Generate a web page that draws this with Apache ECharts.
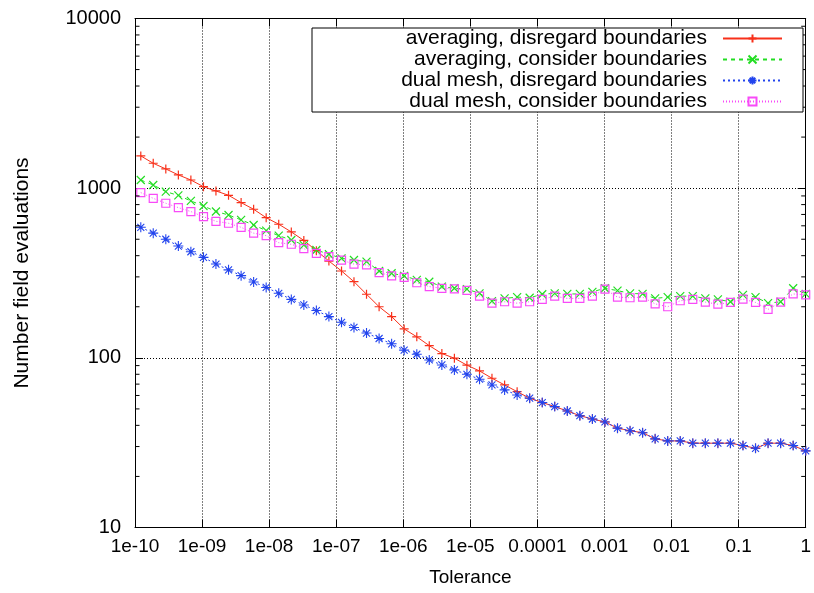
<!DOCTYPE html>
<html>
<head>
<meta charset="utf-8">
<script src="https://cdn.jsdelivr.net/npm/echarts@6/dist/echarts.min.js"></script>
<style>html,body{margin:0;padding:0;background:#fff;}#c{width:814px;height:593px;}</style>
</head>
<body>
<div id="c"></div>
<script>
// Tolerance values (x)
var tolerance = [1.22e-10, 1.87e-10, 2.88e-10, 4.43e-10, 6.81e-10, 1.05e-9, 1.61e-9, 2.48e-9, 3.82e-9, 5.87e-9,
  9.03e-9, 1.39e-8, 2.14e-8, 3.29e-8, 5.06e-8, 7.78e-8, 1.20e-7, 1.84e-7, 2.83e-7, 4.36e-7,
  6.70e-7, 1.03e-6, 1.59e-6, 2.44e-6, 3.76e-6, 5.78e-6, 8.89e-6, 1.37e-5, 2.10e-5, 3.24e-5,
  4.98e-5, 7.66e-5, 1.18e-4, 1.81e-4, 2.79e-4, 4.29e-4, 6.60e-4, 1.015e-3, 1.562e-3, 2.403e-3,
  3.697e-3, 5.688e-3, 8.75e-3, 1.346e-2, 2.071e-2, 3.186e-2, 4.902e-2, 7.542e-2, 0.116, 0.1785,
  0.2746, 0.4225, 0.65, 1];
var avgDisregard = [1549, 1402, 1298, 1197, 1117, 1020, 963, 908, 822, 751, 670, 613, 552, 492,
  428, 372, 325, 281, 237, 200, 175, 148, 133, 118, 106, 99.5, 90.5,
  83.7, 75.8, 69.2, 63.2, 57.8, 54.5, 51.6, 48.6, 45.6, 43.6, 41.9, 38.5, 37.2,
  36.2, 33.3, 32.4, 32.4, 31.4, 31.4, 31.4, 31.4, 30.4, 29.3, 31.4, 31.4, 30.4, 28.3];
var avgConsider = [1117, 1044, 954, 906, 841, 785, 729, 695, 650, 607, 562, 525, 495, 462,
  432, 408, 386, 377, 369, 325, 315, 304, 288, 281, 263, 257, 254,
  240, 216, 224, 228, 226, 237, 240, 238, 238, 245, 257, 249, 240,
  238, 224, 228, 231, 231, 224, 221, 214, 235, 228, 210, 214, 257, 238];
var dualDisregard = [588, 543, 500, 456, 422, 391, 357, 330, 305, 280, 260, 240, 221, 205,
  190, 175, 162, 151, 140, 130, 121, 111, 105, 97.2, 90.8, 84.9, 80,
  74.8, 69.2, 64.7, 60.4, 57.8, 54.5, 51.6, 48.6, 45.6, 43.6, 41.9, 38.5, 37.2,
  36.2, 33.3, 32.4, 32.4, 31.4, 31.4, 31.4, 31.4, 30.4, 29.3, 31.4, 31.4, 30.4, 28.3];
var dualConsider = [942, 871, 815, 768, 728, 679, 638, 621, 588, 543, 525, 477, 467, 440,
  413, 395, 377, 357, 353, 318, 304, 298, 277, 263, 257, 255, 250,
  231, 210, 214, 210, 214, 221, 231, 224, 224, 231, 254, 228, 226,
  228, 208, 200, 217, 221, 213, 207, 212, 222, 212, 193, 213, 238, 235];
var seriesNames = ['averaging, disregard boundaries', 'averaging, consider boundaries',
  'dual mesh, disregard boundaries', 'dual mesh, consider boundaries'];
// tick labels by decade exponent
var xTickLabels = {'-10':'1e-10','-9':'1e-09','-8':'1e-08','-7':'1e-07','-6':'1e-06','-5':'1e-05','-4':'0.0001','-3':'0.001','-2':'0.01','-1':'0.1','0':'1'};
var yTickLabels = {'1':'10','2':'100','3':'1000','4':'10000'};
var minorY = [];
[10, 100, 1000].forEach(function (d) { for (var m = 2; m <= 9; m++) minorY.push(m * d); });

function pair(ys) { return tolerance.map(function (t, i) { return [t, ys[i]]; }); }

var FONT = 'Liberation Sans, Arial, Helvetica, sans-serif';
var symPlus = 'path://M0,5L10,5M5,0L5,10';
var symCross = 'path://M0,0L10,10M10,0L0,10';
var symStar = 'path://M0,5L10,5M5,0L5,10M1.5,1.5L8.5,8.5M8.5,1.5L1.5,8.5';
var symBox = 'path://M0,0L10,0L10,10L0,10Z';

function fmtX(v) { return xTickLabels[String(Math.round(Math.log10(v)))] || ''; }
function fmtY(v) { return yTickLabels[String(Math.round(Math.log10(v)))] || ''; }

function lineSeries(name, ys, color, type, sym, size, bw) {
  return {
    name: name, type: 'line', data: pair(ys), symbol: sym, symbolSize: size,
    showSymbol: true, animation: false,
    lineStyle: { color: color, width: 1, type: type },
    itemStyle: { color: 'rgba(0,0,0,0)', borderColor: color, borderWidth: bw },
    emphasis: { disabled: true }, z: 3
  };
}

var minorTickSeries = {
  type: 'custom', silent: true, animation: false, z: 4,
  data: minorY.map(function (v) { return [v]; }),
  renderItem: function (params, api) {
    var pL = api.coord([1e-10, api.value(0)]);
    var pR = api.coord([1, api.value(0)]);
    var st = { stroke: '#000', lineWidth: 1 };
    return { type: 'group', children: [
      { type: 'line', shape: { x1: pL[0], y1: pL[1], x2: pL[0] + 4.5, y2: pL[1] }, style: st },
      { type: 'line', shape: { x1: pR[0], y1: pR[1], x2: pR[0] - 4.5, y2: pR[1] }, style: st }
    ]};
  },
  encode: { y: 0 }
};

var chart = echarts.init(document.getElementById('c'), null, { renderer: 'canvas' });
var axisCommon = {
  type: 'log', logBase: 10,
  axisLine: { show: true, onZero: false, lineStyle: { color: '#000', width: 1 } },
  axisTick: { show: true, inside: true, length: 8, lineStyle: { color: '#000' } },
  minorTick: { show: false }
};
chart.setOption({
  animation: false,
  backgroundColor: '#fff',
  grid: { left: 135, right: 4, top: 18.5, bottom: 65.5, containLabel: false },
  legend: {
    data: seriesNames, orient: 'vertical', align: 'right',
    right: 11, top: 28, padding: [0, 20, 0, 16], itemGap: 0,
    itemWidth: 59, itemHeight: 10,
    backgroundColor: '#fff', borderColor: '#000', borderWidth: 1,
    selectedMode: false, z: 10,
    formatter: function (n) { return '{a|' + n + '}{g|}'; },
    textStyle: {
      fontFamily: FONT, fontSize: 21, color: '#000', lineHeight: 21,
      rich: {
        a: { width: 379, align: 'right', fontFamily: FONT, fontSize: 21, lineHeight: 21, color: '#000' },
        g: { width: 11 }
      }
    }
  },
  xAxis: [
    Object.assign({}, axisCommon, {
      min: 1e-10, max: 1, interval: 1, splitNumber: 10, position: 'bottom',
      name: 'Tolerance', nameLocation: 'middle', nameGap: 41,
      nameTextStyle: { fontFamily: FONT, fontSize: 19, color: '#000' },
      axisLabel: { fontFamily: FONT, fontSize: 19, color: '#000', margin: 10, formatter: fmtX, showMinLabel: true, showMaxLabel: true },
      splitLine: { show: true, lineStyle: { color: '#000', width: 1, type: [1, 2] } }
    }),
    Object.assign({}, axisCommon, {
      min: 1e-10, max: 1, interval: 1, splitNumber: 10, position: 'top', axisLabel: { show: false }, splitLine: { show: false }
    })
  ],
  yAxis: [
    Object.assign({}, axisCommon, {
      min: 10, max: 10000, interval: 1, splitNumber: 3, position: 'left',
      name: 'Number field evaluations', nameLocation: 'middle', nameGap: 102,
      nameTextStyle: { fontFamily: FONT, fontSize: 21, color: '#000' },
      axisLabel: { fontFamily: FONT, fontSize: 20, color: '#000', margin: 14, formatter: fmtY },
      splitLine: { show: true, lineStyle: { color: '#000', width: 1, type: [1, 2] } }
    }),
    Object.assign({}, axisCommon, {
      min: 10, max: 10000, interval: 1, splitNumber: 3, position: 'right', axisLabel: { show: false }, splitLine: { show: false }
    })
  ],
  series: [
    lineSeries(seriesNames[0], avgDisregard, '#f8301a', 'solid', symPlus, 9, 1.2),
    lineSeries(seriesNames[1], avgConsider, '#22dd22', [4, 4], symCross, 8, 1.2),
    lineSeries(seriesNames[2], dualDisregard, '#2244ee', [2, 3], symStar, 10, 1.1),
    lineSeries(seriesNames[3], dualConsider, '#f84af8', [1, 2], symBox, 8, 1.2),
    minorTickSeries
  ]
});
</script>
</body>
</html>
